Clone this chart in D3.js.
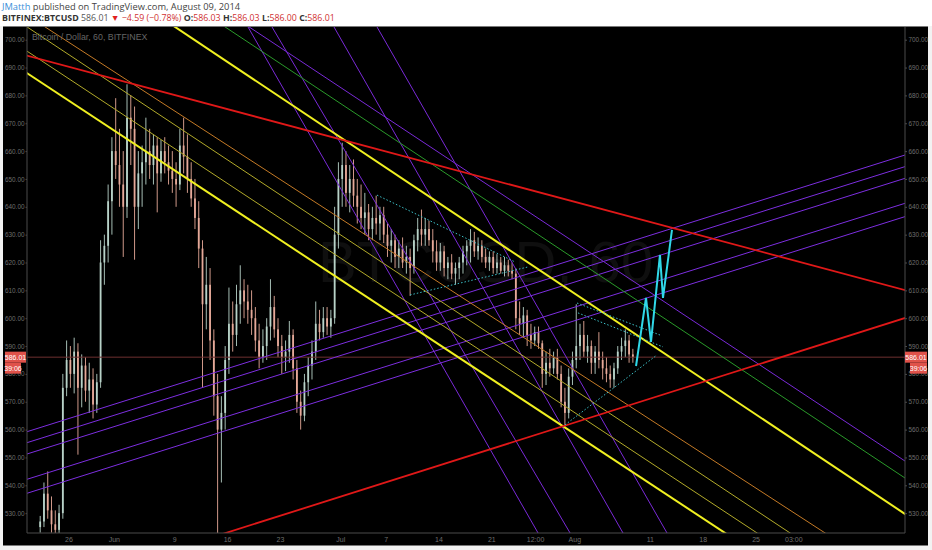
<!DOCTYPE html>
<html><head><meta charset="utf-8">
<script src="https://cdn.jsdelivr.net/npm/d3@7"></script>
<style>body{margin:0;background:#fff;overflow:hidden}svg{display:block}</style>
</head><body><svg id="c" width="932" height="550"></svg>
<script>
// ---------- DATA ----------
// 12-hour candles starting on day -3.75 (day 0 = May 26, 2014)
const candleStartDay = -3.75;
const candleStepDays = 0.5;
const candles = [
[525,529,523,527],[527,541,525,537],[537,545,528,531],[531,536,523,526],[526,531,521,524],[524,533,522,530],
[530,580,528,575],[575,592,572,585],[585,590,575,580],[580,593,573,588],[588,591,551,575],[575,587,568,583],
[583,586,570,574],[574,584,566,578],[578,582,564,569],[569,580,566,577],[577,628,575,620],[620,630,612,626],
[626,648,620,642],[642,665,630,660],[660,679,650,655],[655,668,640,648],[648,660,622,640],[640,684,636,672],
[672,680,655,668],[668,676,621,640],[640,660,632,652],[652,662,640,656],[656,672,648,660],[660,668,650,655],
[655,666,648,662],[662,665,638,652],[652,664,649,660],[660,665,652,656],[656,662,648,653],[653,660,645,650],
[650,656,640,648],[648,668,646,662],[662,672,652,658],[658,666,645,650],[650,656,640,643],[643,650,632,636],
[636,642,618,625],[625,628,575,605],[605,622,596,612],[612,618,585,592],[592,596,565,572],[572,580,522,560],
[560,572,541,566],[566,590,560,585],[585,611,580,598],[598,606,588,594],[594,612,590,605],[605,619,598,610],
[610,614,600,606],[606,612,598,603],[603,610,594,600],[600,604,588,592],[592,598,582,586],[586,596,584,590],
[590,600,585,597],[597,614,592,604],[604,608,593,596],[596,600,586,590],[590,594,580,586],[586,592,581,588],
[588,599,584,594],[594,596,578,582],[582,585,566,570],[570,574,560,565],[565,580,563,577],[577,586,572,583],
[583,592,578,588],[588,606,585,598],[598,603,592,595],[595,604,593,600],[600,604,594,597],[597,603,593,600],
[600,640,598,630],[630,656,625,650],[650,663,640,655],[655,660,640,645],[645,655,638,650],[650,657,640,644],
[644,650,634,640],[640,648,632,636],[636,645,630,638],[638,641,628,632],[632,640,628,636],[636,644,630,634],
[634,640,628,637],[637,640,627,630],[630,634,622,626],[626,632,620,628],[628,630,618,622],[622,628,618,625],
[625,629,618,620],[620,626,616,622],[622,625,608,618],[618,630,616,628],[628,636,624,632],[632,639,626,630],
[630,636,626,632],[632,635,626,628],[628,632,620,624],[624,628,617,620],[620,627,617,624],[624,626,615,618],
[618,622,614,620],[620,623,614,616],[616,620,612,618],[618,622,614,620],[620,626,616,624],[624,628,619,626],
[626,632,620,628],[628,631,622,624],[624,629,621,626],[626,628,620,622],[622,625,618,620],[620,624,617,622],
[622,624,616,618],[618,623,616,620],[620,622,616,617],[617,622,615,619],[619,621,615,617],[617,620,614,616],
[616,618,596,600],[600,606,594,598],[598,604,593,601],[601,603,590,594],[594,598,589,592],[592,597,590,595],
[595,597,589,591],[591,592,575,580],[580,588,576,584],[584,589,579,582],[582,588,580,586],[586,589,578,580],
[580,583,568,570],[570,575,561,566],[566,582,564,579],[579,588,576,585],[585,605,582,590],[590,598,585,594],
[594,599,586,588],[588,594,584,590],[590,592,580,584],[584,590,580,588],[588,595,582,585],[585,588,578,582],
[582,586,577,580],[580,583,575,578],[578,584,575,582],[582,590,580,588],[588,593,585,590],[590,596,586,592],
[592,594,584,587],[587,589,584,586]
];
const priceTicks = [530,540,550,560,570,580,590,600,610,620,630,640,650,660,670,680,690,700];
const timeTickDays   = [0,6,14,21,28,36,42,49,56,61.8,67,77,84,91,96];
const timeTickLabels = ["26","Jun","9","16","23","Jul","7","14","21","12:00","Aug","11","18","25","03:00"];
const lastPrice = 586.01;
const countdown = "39:06";
// trend lines: [day1, price1, day2, price2] (extended across the chart)
const redLines      = [[-5.5,694.3,110.8,610.1],[20.86,522.9,110.8,600.1]];
const yellowLines   = [[-5.5,688.0,86.95,522.9],[14.1,704.6,110.8,529.7]];
const oliveLines    = [[-5.5,704.6,95.56,522.9],[-5.5,695.9,91.19,522.9]];
const orangeLines   = [[-3.11,704.6,100.2,522.9]];
const greenLines    = [[20.73,704.6,110.8,542.6]];
const purpleDown    = [[23.91,704.6,110.8,548.7],
                       [23.77,704.6,62.19,522.9],[26.95,704.6,66.43,522.9],
                       [35.16,704.6,73.44,522.9],[40.86,704.6,79.27,522.9]];
const purpleUp      = [[-5.5,559.24,110.8,658.6],[-5.5,555.3,110.8,654.43],[-5.5,551.24,110.8,650.23],
                       [-5.5,542.15,110.8,641.26],[-5.5,537.13,110.8,636.48]];
// dotted wedge segments [day1, price1, day2, price2]
const dottedSegs    = [[40.86,644.2,59.14,620.2],[45.23,608.35,60.86,618.4],
                       [67.35,605.45,78.34,593.97],[67.48,601.9,78.74,589.7],[65.76,561.7,77.95,586.8]];
// projected path
const projDays   = [75.17,76.49,77.15,78.34,78.74,79.93];
const projPrices = [582.84,607.27,591.47,622.71,607.27,631.69];

// ---------- DRAW ----------
const W=932,H=550;
const L=27,R=905,T=27,B=533;
const svg=d3.select("#c");
const x=d3.scaleLinear().domain([0,77]).range([68.5,68.5+77*7.55]);
const y=d3.scaleLinear().domain([530,700]).range([513.15,39.7]);

svg.append("rect").attr("width",W).attr("height",H).attr("fill","#f2f2f2");
svg.append("rect").attr("width",W).attr("height",26).attr("fill","#fff");
svg.append("rect").attr("x",3).attr("y",26.5).attr("width",925).attr("height",519).attr("fill","#000");

// header
const h1=svg.append("text").attr("x",2).attr("y",10).attr("font-family","Open Sans, sans-serif").attr("font-size",9.3).attr("fill","#444");
h1.append("tspan").attr("fill","#3b8fd9").text("JMatth");
h1.append("tspan").text(" published on TradingView.com, August 09, 2014");
const h2=svg.append("text").attr("x",2).attr("y",21).attr("font-family","Open Sans, sans-serif").attr("font-size",8.8).attr("fill","#333");
h2.append("tspan").attr("font-weight","bold").text("BITFINEX:BTCUSD");
h2.append("tspan").attr("fill","#555").text(" "+lastPrice.toFixed(2)+" ");
h2.append("tspan").attr("fill","#e02020").text("▼");
h2.append("tspan").attr("fill","#d03030").text(" −4.59 (−0.78%) ");
[["O:","586.03"],["H:","586.03"],["L:","586.00"],["C:","586.01"]].forEach(([k,v])=>{
  h2.append("tspan").attr("font-weight","bold").attr("fill","#333").text(k);
  h2.append("tspan").attr("fill","#d03030").text(v+" ");
});

svg.append("defs").append("clipPath").attr("id","plot").append("rect").attr("x",L).attr("y",T).attr("width",R-L).attr("height",B-T);
const g=svg.append("g").attr("clip-path","url(#plot)");

// watermark
g.append("text").attr("x",318).attr("y",282).attr("font-family","Liberation Sans, Arial, sans-serif")
 .attr("font-size",58).attr("fill","#0f0f0f").text("BTCUSD, 60");

// legend
svg.append("text").attr("x",32).attr("y",40).attr("font-family","Liberation Sans, Arial, sans-serif").attr("font-size",8.8).attr("fill","#666").text("Bitcoin / Dollar, 60, BITFINEX");

// candles
const cg=g.append("g");
candles.forEach((c,i)=>{
  const [o,h,l,cl]=c; const d=candleStartDay+i*candleStepDays; const cx=x(d);
  const col = cl>=o ? "#b8d2c8" : "#e6a999";
  cg.append("line").attr("x1",cx).attr("x2",cx).attr("y1",y(h)).attr("y2",y(l)).attr("stroke",col).attr("stroke-width",0.9);
  const top=y(Math.max(o,cl)), bot=y(Math.min(o,cl));
  cg.append("rect").attr("x",cx-0.9).attr("width",1.8).attr("y",top).attr("height",Math.max(0.8,bot-top)).attr("fill",col);
});

// price line
g.append("line").attr("x1",L).attr("x2",R).attr("y1",y(lastPrice)).attr("y2",y(lastPrice)).attr("stroke","#6e3030").attr("stroke-width",1);

// trend lines extended across plot
function ext(seg){
  const [d1,p1,d2,p2]=seg; const x1=x(d1),y1=y(p1),x2=x(d2),y2=y(p2);
  const k=(y2-y1)/(x2-x1);
  return [L-5, y1+k*(L-5-x1), R+5, y1+k*(R+5-x1)];
}
function drawLines(arr,color,w){
  arr.forEach(s=>{const e=ext(s);
    g.append("line").attr("x1",e[0]).attr("y1",e[1]).attr("x2",e[2]).attr("y2",e[3]).attr("stroke",color).attr("stroke-width",w);});
}
drawLines(purpleUp,"#7d2ee0",1);
drawLines(purpleDown,"#7a2ad8",1);
drawLines(orangeLines,"#c47a26",1);
drawLines(oliveLines,"#b2aa2a",1);
drawLines(greenLines,"#2a9a2a",1);
drawLines(yellowLines,"#f0f020",2);
drawLines(redLines,"#e01818",1.8);

// dotted wedges
dottedSegs.forEach(([d1,p1,d2,p2])=>{
  g.append("line").attr("x1",x(d1)).attr("y1",y(p1)).attr("x2",x(d2)).attr("y2",y(p2))
   .attr("stroke","#3cc0c8").attr("stroke-width",1).attr("stroke-dasharray","1.5,2");
});
// projection
g.append("path").attr("d",d3.line()(projDays.map((d,i)=>[x(d),y(projPrices[i])])))
 .attr("fill","none").attr("stroke","#30d8e8").attr("stroke-width",2);

// axes
const axFont="Liberation Sans, Arial, sans-serif";
const la=svg.append("g").attr("transform",`translate(${L},0)`).call(d3.axisLeft(y).tickValues(priceTicks).tickFormat(d3.format(".2f")).tickSize(1.5).tickPadding(1));
const ra=svg.append("g").attr("transform",`translate(${R},0)`).call(d3.axisRight(y).tickValues(priceTicks).tickFormat(d3.format(".2f")).tickSize(2).tickPadding(1.5));
const ba=svg.append("g").attr("transform",`translate(0,${B})`).call(d3.axisBottom(x).tickValues(timeTickDays).tickFormat((d,i)=>timeTickLabels[i]).tickSize(0).tickPadding(4));
[la,ra,ba].forEach(a=>{
  a.select(".domain").attr("stroke","#4a4a4a");
  a.selectAll(".tick line").attr("stroke","#4a4a4a");
  a.selectAll("text").attr("fill","#6e6e6e").attr("font-size",6.4).attr("font-family",axFont);
});
ba.selectAll("text").attr("font-size",7);
la.select(".domain").attr("d",`M0,${T}V${B}`);
ra.select(".domain").attr("d",`M0,${T}V${B}`);
ba.select(".domain").attr("d",`M${L},0H${R}`);

// last price labels
function tag(xp,yp,w,txt){
  svg.append("rect").attr("x",xp).attr("y",yp-5.5).attr("width",w).attr("height",11).attr("fill","#e0524a");
  svg.append("text").attr("x",xp+w/2).attr("y",yp+2.6).attr("text-anchor","middle").attr("font-family",axFont).attr("font-size",7).attr("fill","#fff").text(txt);
}
const ly=y(lastPrice);
tag(5,ly,21,lastPrice.toFixed(2));
tag(5,ly+11,16,countdown);
tag(905,ly,22,lastPrice.toFixed(2));
tag(910,ly+11,17,countdown);
</script></body></html>
